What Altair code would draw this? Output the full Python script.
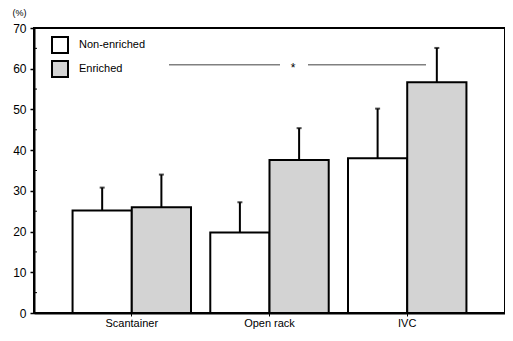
import altair as alt
import pandas as pd

categories = ["Scantainer", "Open rack", "IVC"]
groups = ["Non-enriched", "Enriched"]
non_enriched = [25.2, 19.8, 38.0]
non_enriched_sd = [5.6, 7.4, 12.2]
enriched = [26.0, 37.6, 56.7]
enriched_sd = [8.0, 7.8, 8.4]
minor_ticks = [5, 15, 25, 35, 45, 55, 65]
sig_level = [61]

rows = []
for i, c in enumerate(categories):
    rows.append({"cat": c, "grp": groups[0], "val": non_enriched[i], "top": non_enriched[i] + non_enriched_sd[i]})
    rows.append({"cat": c, "grp": groups[1], "val": enriched[i], "top": enriched[i] + enriched_sd[i]})
df = pd.DataFrame(rows)

W, H = 471, 285
FONT = "Liberation Sans"

xs = alt.X("cat:N", sort=categories,
           scale=alt.Scale(paddingInner=0.14, paddingOuter=0.28),
           axis=alt.Axis(title=None, labelAngle=0, labelFont=FONT, labelFontSize=11,
                         labelColor="black", tickColor="black", tickSize=3,
                         domainColor="black", domainWidth=2, labelPadding=1))
xo = alt.XOffset("grp:N", sort=groups, scale=alt.Scale(paddingInner=0, paddingOuter=0))
ys = alt.Y("val:Q", scale=alt.Scale(domain=[0, 70]),
           axis=alt.Axis(values=list(range(0, 71, 10)), title="(%)", titleAngle=0,
                         titleX=-22, titleY=-11, titleAlign="left", titleFont=FONT,
                         titleFontSize=9, titleFontWeight="normal", titleColor="black",
                         labelFont=FONT, labelFontSize=12, labelColor="black",
                         tickColor="black", tickSize=4, tickWidth=1.5, domainColor="black",
                         domainWidth=2, grid=False, labelPadding=4))

base = alt.Chart(df)

bars = base.mark_bar(stroke="black", strokeWidth=2).encode(
    x=xs, xOffset=xo, y=ys,
    fill=alt.Fill("grp:N", sort=groups,
                  scale=alt.Scale(domain=groups, range=["white", "#d3d3d3"]),
                  legend=alt.Legend(title=None, orient="none", legendX=17, legendY=8,
                                    symbolType="square", symbolSize=256,
                                    symbolStrokeColor="black", symbolStrokeWidth=2,
                                    labelFont=FONT, labelFontSize=11, labelColor="black",
                                    rowPadding=0, labelOffset=10)),
)

err = base.mark_rule(color="black", strokeWidth=2).encode(
    x=alt.X("cat:N", sort=categories), xOffset=xo,
    y="val:Q", y2="top:Q")

caps = base.mark_tick(color="black", thickness=2, size=5).encode(
    x=alt.X("cat:N", sort=categories), xOffset=xo, y="top:Q")

minor = alt.Chart(pd.DataFrame({"m": minor_ticks})).mark_rule(color="black", strokeWidth=1).encode(
    y="m:Q", x=alt.value(0), x2=alt.value(3))

sig = pd.DataFrame({"y": sig_level})
sig_l1 = alt.Chart(sig).mark_rule(color="#808080", strokeWidth=1.5).encode(
    y="y:Q", x=alt.value(135), x2=alt.value(246))
sig_l2 = alt.Chart(sig).mark_rule(color="#808080", strokeWidth=1.5).encode(
    y="y:Q", x=alt.value(274), x2=alt.value(392))
star = alt.Chart(sig).mark_text(text="*", font=FONT, fontSize=12, dy=3, color="black").encode(
    y="y:Q", x=alt.value(259))

chart = alt.layer(bars, err, caps, minor, sig_l1, sig_l2, star).properties(
    width=W, height=H,
    autosize=alt.AutoSizeParams(type="none"),
    padding={"left": 26, "top": 20, "right": 0, "bottom": 16},
).configure_view(stroke="black", strokeWidth=2)

chart.save("out.html", embed_options={"renderer": "svg", "actions": False})
